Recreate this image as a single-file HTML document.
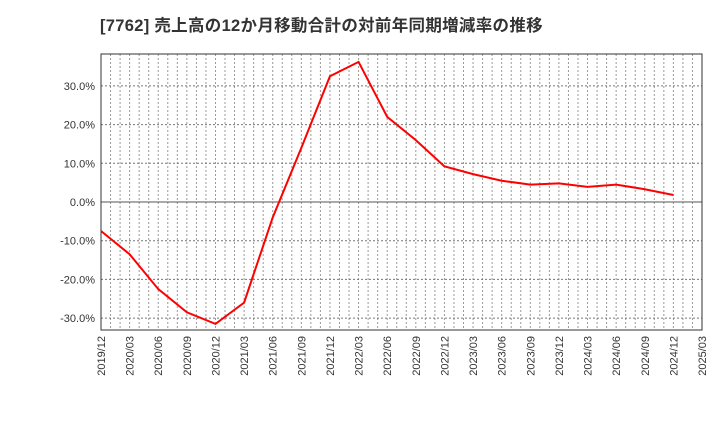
<!DOCTYPE html>
<html><head><meta charset="utf-8"><style>
body{margin:0;background:#fff;}
svg{display:block;font-family:"Liberation Sans","Noto Sans CJK JP",sans-serif;}
</style></head><body>
<svg id="chart" width="720" height="440">
<text x="100" y="31" font-size="16.5" font-weight="bold" fill="#333" letter-spacing="0.3">[7762]  売上高の12か月移動合計の対前年同期増減率の推移</text>
<g id="grid"></g><g id="axes"></g><g id="series"></g>
</svg>
<script>
const xLabels=["2019/12","2020/03","2020/06","2020/09","2020/12","2021/03","2021/06","2021/09","2021/12","2022/03","2022/06","2022/09","2022/12","2023/03","2023/06","2023/09","2023/12","2024/03","2024/06","2024/09","2024/12","2025/03"];
const values=[-7.5,-13.5,-22.5,-28.5,-31.5,-26,-4,14,32.5,36.2,22,16,9.2,7.2,5.5,4.5,4.8,3.9,4.5,3.3,1.8];
const yTicks=[-30,-20,-10,0,10,20,30];
const L=101,R=702,T=54,B=330;
const xs=i=>L+(R-L)*i/(xLabels.length-1);
const ys=v=>202-v*3.87;
const NS="http://www.w3.org/2000/svg";
function mk(p,t,a){const e=document.createElementNS(NS,t);for(const k in a)e.setAttribute(k,a[k]);p.appendChild(e);return e;}
const g=document.getElementById('grid'),ax=document.getElementById('axes'),s=document.getElementById('series');
for(let m=1;m<(xLabels.length-1)*3;m++){const x=L+(R-L)*m/((xLabels.length-1)*3);
const l=mk(g,'line',{x1:x,x2:x,y1:T,y2:B,stroke:'#999','stroke-dasharray':'2,2','stroke-width':1});

}
yTicks.forEach(v=>{const y=ys(v);
const l=mk(g,'line',{x1:L,x2:R,y1:y,y2:y,stroke:v===0?'#555':'#777','stroke-dasharray':v===0?'none':'2,2','stroke-width':1});


const t=mk(ax,'text',{x:L-6,y:y+4,'text-anchor':'end','font-size':11,fill:'#333'});t.textContent=v.toFixed(1)+'%';

});
xLabels.forEach((lab,i)=>{const x=xs(i);
const t=mk(ax,'text',{transform:`translate(${x+4},${B+6}) rotate(-90)`,'text-anchor':'end','font-size':11,fill:'#333'});t.textContent=lab;

});
const fr=mk(ax,'rect',{x:L,y:T,width:R-L,height:B-T,fill:'none',stroke:'#333','stroke-width':1});


const pl=mk(s,'polyline',{points:values.map((v,i)=>xs(i)+','+ys(v)).join(' '),fill:'none',stroke:'#f00','stroke-width':2});


</script>
</body></html>
